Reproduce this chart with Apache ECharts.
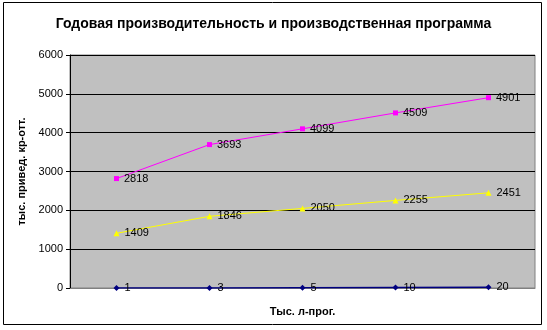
<!DOCTYPE html>
<html>
<head>
<meta charset="utf-8">
<script src="https://cdn.jsdelivr.net/npm/echarts@6/dist/echarts.min.js"></script>
<style>
html,body{margin:0;padding:0;background:#fff;}
#c{width:547px;height:330px;}
</style>
</head>
<body>
<div id="c"></div>
<script>
var categories = ['1', '3', '5', '10', '20'];
var productivity = [2818, 3693, 4099, 4509, 4901];
var program = [1409, 1846, 2050, 2255, 2451];
var volume = [1, 3, 5, 10, 20];
var yTicks = [0, 1000, 2000, 3000, 4000, 5000, 6000];

var font = 'Arial, "Liberation Sans", sans-serif';
var chart = echarts.init(document.getElementById('c'), null, {renderer: 'canvas'});
function lbl() {
  return {show: true, position: 'right', distance: 5, color: '#000', fontSize: 11, fontFamily: font};
}
chart.setOption({
  animation: false,
  backgroundColor: '#fff',
  graphic: [{
    type: 'rect', shape: {x: 3.5, y: 2.5, width: 538, height: 322},
    style: {fill: 'none', stroke: '#000', lineWidth: 1}, z: 100
  }],
  title: {
    text: 'Годовая производительность и производственная программа',
    left: 'center', top: 12,
    textStyle: {fontSize: 14, fontWeight: 'bold', fontFamily: font, color: '#000'}
  },
  grid: {
    left: 70, top: 55, width: 465, height: 233,
    show: true, backgroundColor: '#C0C0C0', borderColor: '#808080', borderWidth: 1
  },
  xAxis: {
    type: 'category', data: categories, boundaryGap: true,
    name: 'Тыс. л-прог.', nameLocation: 'middle', nameGap: 18,
    nameTextStyle: {fontSize: 11, fontWeight: 'bold', fontFamily: font, color: '#000'},
    axisLine: {show: true, lineStyle: {color: '#808080'}},
    axisTick: {show: false}, axisLabel: {show: false}, splitLine: {show: false}
  },
  yAxis: {
    type: 'value', min: yTicks[0], max: yTicks[yTicks.length - 1], interval: 1000,
    name: 'тыс. привед. кр-отт.', nameLocation: 'middle', nameGap: 40,
    nameTextStyle: {fontSize: 11, fontWeight: 'bold', fontFamily: font, color: '#000'},
    axisLine: {show: true, lineStyle: {color: '#000'}},
    axisTick: {show: true, length: 4, lineStyle: {color: '#000'}},
    axisLabel: {fontSize: 11, fontFamily: font, color: '#000', margin: 7,
                formatter: function (v) { return String(v); }},
    splitLine: {show: true, lineStyle: {color: '#000', width: 1}}
  },
  series: [
    {type: 'line', data: productivity, color: '#FF00FF', symbol: 'rect', symbolSize: 5,
     lineStyle: {width: 1, color: '#FF00FF'}, itemStyle: {color: '#FF00FF'}, label: lbl(), z: 5},
    {type: 'line', data: program, color: '#FFFF00', symbol: 'triangle', symbolSize: 6,
     lineStyle: {width: 1, color: '#FFFF00'}, itemStyle: {color: '#FFFF00'}, label: lbl(), z: 5},
    {type: 'line', data: volume, color: '#000080', symbol: 'diamond', symbolSize: 6,
     lineStyle: {width: 1.5, color: '#000080'}, itemStyle: {color: '#000080'}, label: lbl(), z: 6}
  ]
});
</script>
</body>
</html>
